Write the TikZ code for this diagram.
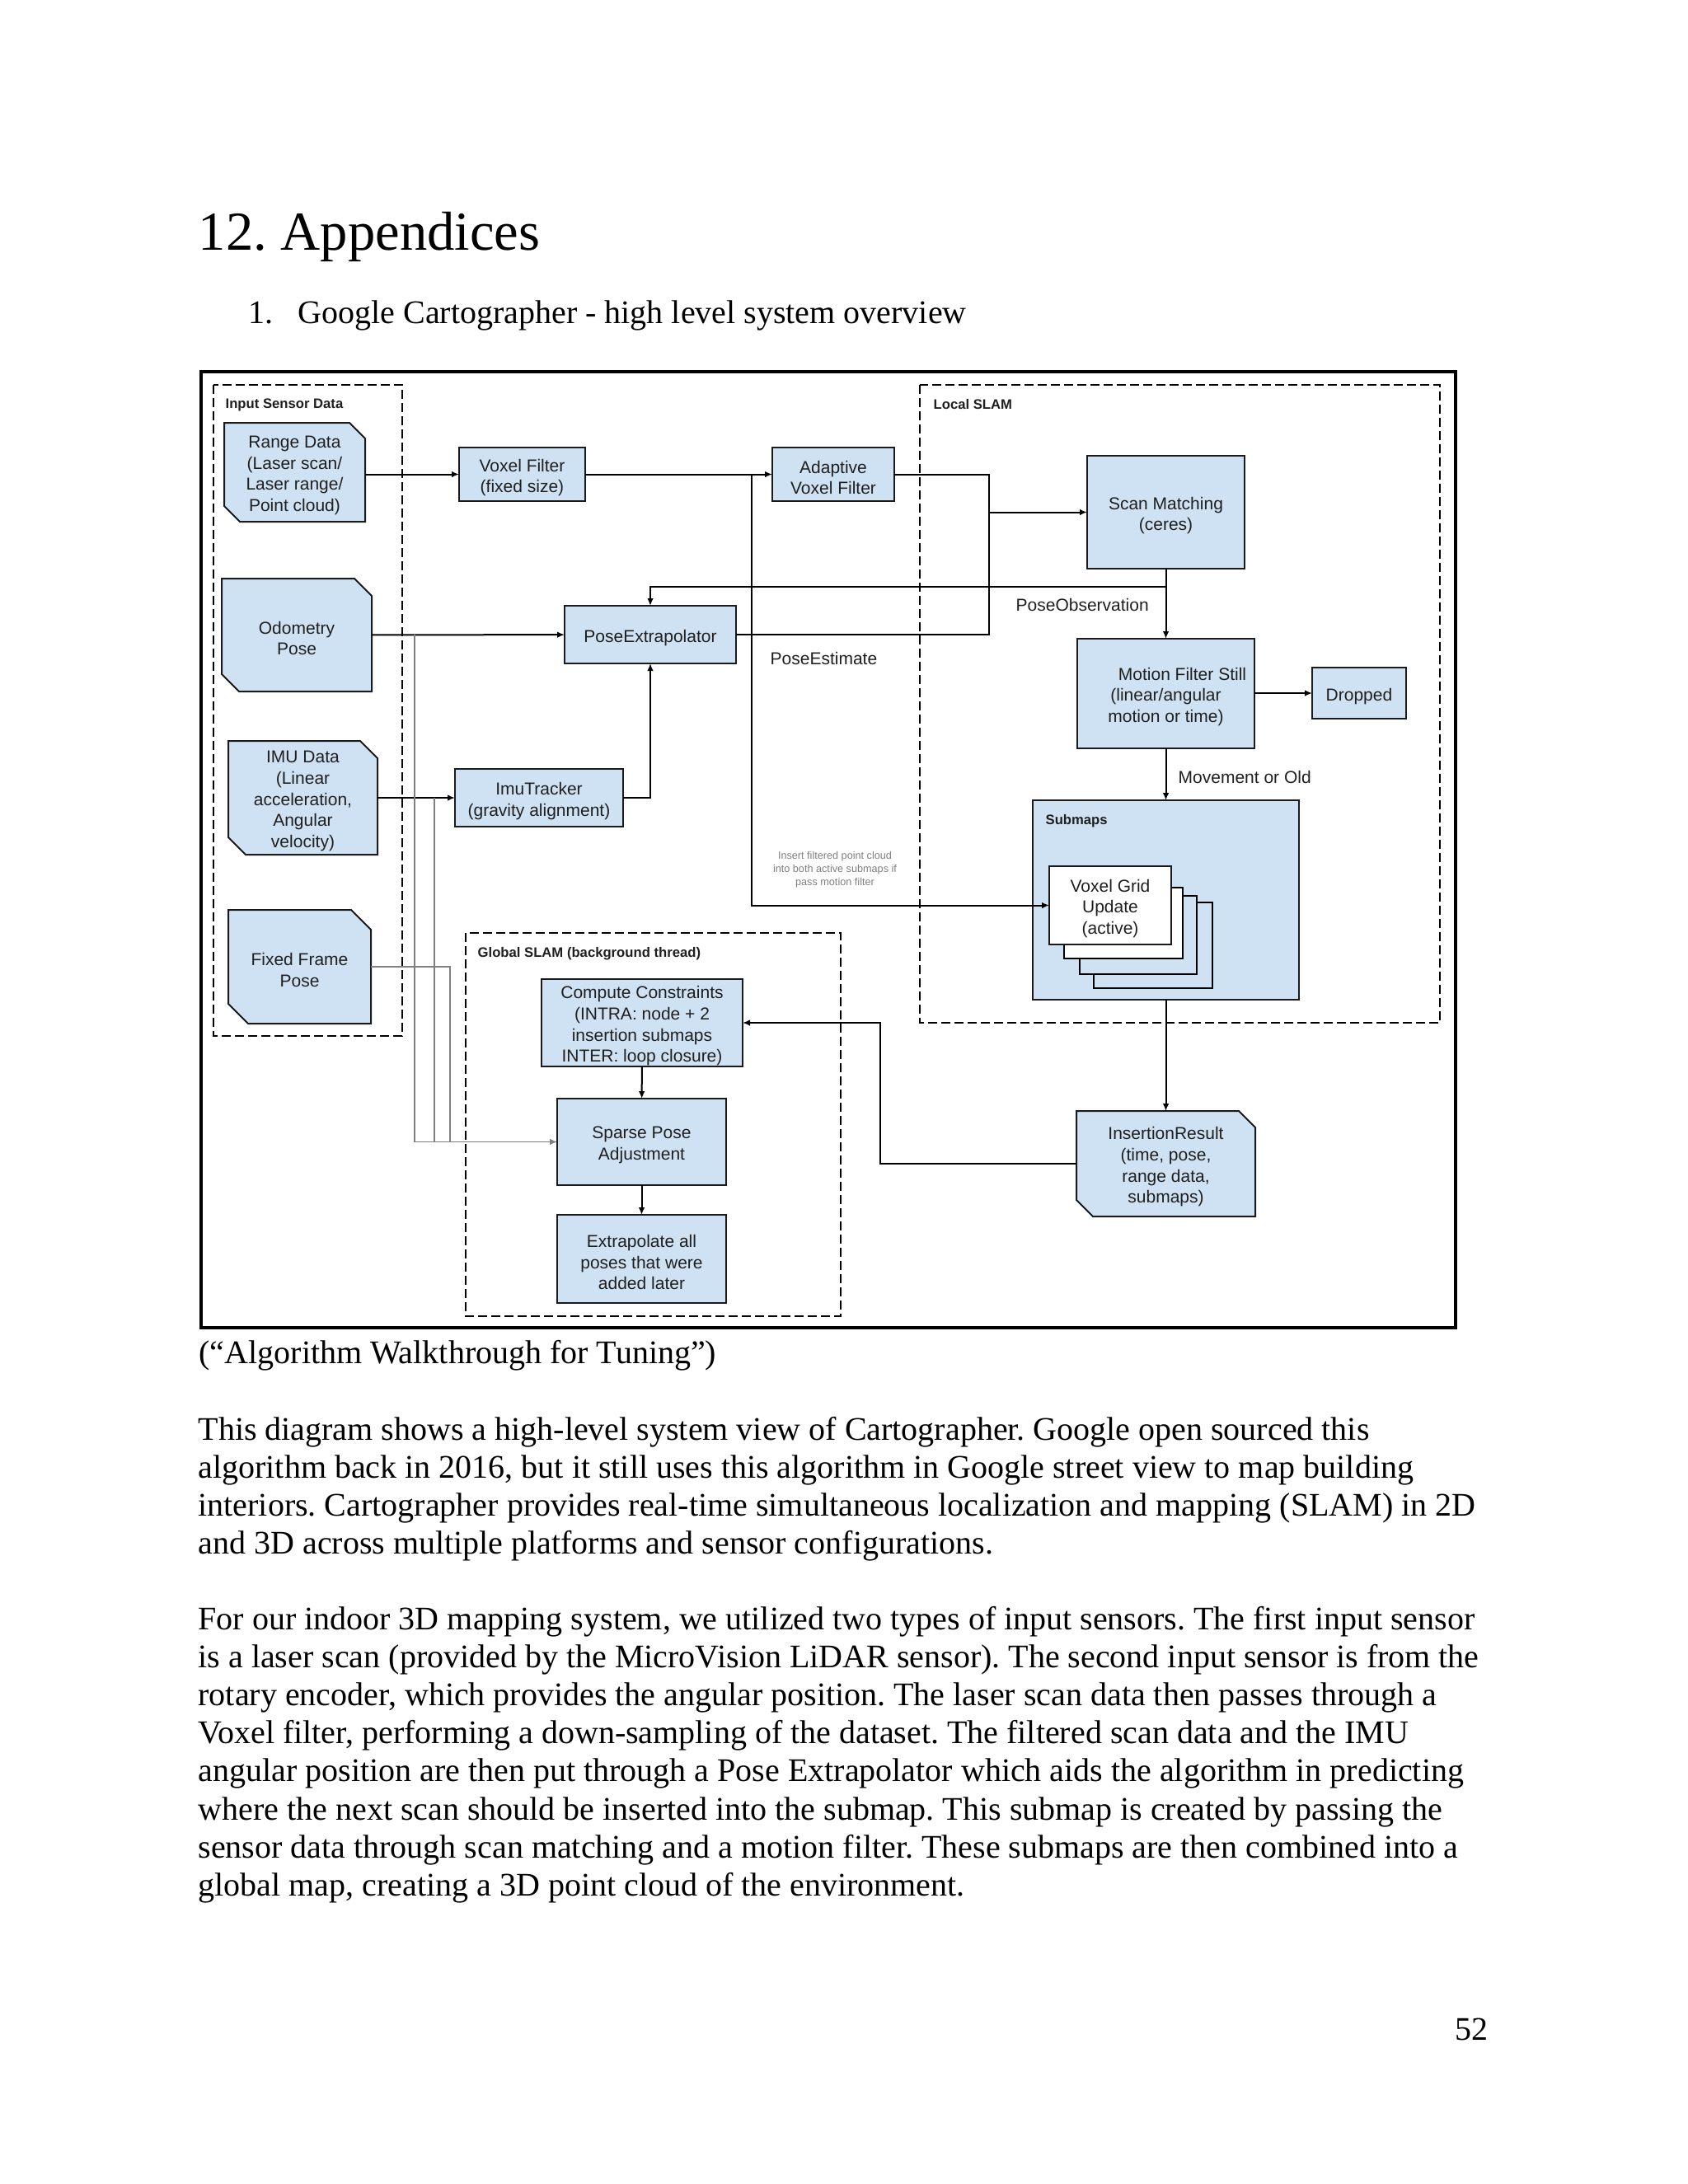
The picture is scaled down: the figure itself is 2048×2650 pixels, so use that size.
\documentclass[tikz,border=0pt]{standalone}
\usepackage{fontspec}
\setmainfont{Liberation Serif}
\newfontfamily\arialf{Liberation Sans}
\usetikzlibrary{arrows.meta}
\newdimen\px \px=0.010542cm
\definecolor{boxblue}{HTML}{CFE2F3}
\definecolor{edgec}{HTML}{1A1A1A}
\definecolor{txtc}{HTML}{1F1F1F}
\newcommand\diagfont{\arialf\fontsize{6.3}{7.7}\selectfont}
\tikzset{
  box/.style={draw=edgec, line width=0.6pt, fill=boxblue, inner sep=0pt, outer sep=0pt},
  boxtxt/.style={inner sep=0pt, align=center, font=\diagfont, text=txtc},
  cutbox/.style={draw=edgec, line width=0.6pt, fill=boxblue},
  ln/.style={line width=0.6pt, draw=black},
  arr/.style={ln, -{Latex[length=2.7pt,width=2.3pt]}},
  gln/.style={line width=0.45pt, draw=black!50},
  garr/.style={gln, -{Latex[length=2.7pt,width=2.3pt]}},
  dbox/.style={draw=black, line width=0.5pt, dash pattern=on 3.3pt off 1.5pt},
  grplbl/.style={font=\arialf\bfseries\fontsize{5}{6}\selectfont, anchor=west, inner sep=0pt, text=txtc},
  clbl/.style={font=\diagfont, anchor=west, inner sep=0pt, text=txtc},
  bodyt/.style={anchor=base west, inner sep=0pt, font=\fontsize{12}{14}\selectfont},
}
\newcommand\bx[7][]{%
  \node[box,minimum width={(#5-#3)*\px},minimum height={(#6-#4)*\px},#1] (#2) at ({(#3+#5)/2},{(#4+#6)/2}) {};
  \node[boxtxt] (#2-t) at ([yshift=-1.2pt]#2.center) {#7};}
\newcommand\cbx[7]{%
  \filldraw[cutbox] (#2,#3) -- ({#4-#6},#3) -- (#4,{#3+#6}) -- (#4,#5) -- ({#2+#6},#5) -- (#2,{#5-#6}) -- cycle;
  \node[box,draw=none,fill=none,minimum width={(#4-#2)*\px},minimum height={(#5-#3)*\px}] (#1) at ({(#2+#4)/2},{(#3+#5)/2}) {};
  \node[boxtxt] (#1-t) at ([yshift=-1.2pt]#1.center) {#7};}
\begin{document}
\frenchspacing
\begin{tikzpicture}[x=0.010542cm,y=-0.010542cm]
\fill[white] (0,0) rectangle (2048,2650);
\useasboundingbox (0,0) rectangle (2048,2650);

% page text
\node[anchor=base west,inner sep=0pt,font=\fontsize{20}{24}\selectfont] (title) at (240,303) {12. Appendices};
\node[anchor=base west,inner sep=0pt,font=\fontsize{12}{14}\selectfont] (subnum) at (301,392) {1.};
\node[anchor=base west,inner sep=0pt,font=\fontsize{12}{14}\selectfont] (subt) at (361,392) {Google Cartographer - high level system overview};

% outer frame and groups
\draw[line width=1.3pt] (244,451) rectangle (1766,1611);
\draw[dbox] (259,467) rectangle (488,1257);
\draw[dbox] (1116,467) rectangle (1747,1241);
\draw[dbox] (565,1132) rectangle (1020,1597);
\node[grplbl] (lin) at (273,491) {Input Sensor Data};
\node[grplbl] (lloc) at (1132,491) {Local SLAM};
\node[grplbl] (lglob) at (579,1157) {Global SLAM (background thread)};

% input sensors
\cbx{range}{272}{513}{443}{633}{19}{Range Data\\(Laser scan/\\Laser range/\\Point cloud)}
\cbx{odo}{269}{702}{451}{839}{21}{Odometry\\Pose}
\cbx{imu}{277}{899}{458}{1037}{21}{IMU Data\\(Linear\\acceleration,\\Angular\\velocity)}
\cbx{ffp}{277}{1104}{450}{1242}{24}{Fixed Frame\\Pose}

% processing boxes
\bx{vf}{557}{543}{710}{608}{Voxel Filter\\(fixed size)}
\bx{avf}{937}{543}{1085}{608}{Adaptive\\Voxel Filter}
\bx{pe}{685}{735}{893}{805}{PoseExtrapolator}
\bx{imut}{552}{933}{756}{1003}{ImuTracker\\(gravity alignment)}
\bx{sm}{1319}{553}{1510}{690}{Scan Matching\\(ceres)}
\bx{mf}{1307}{775}{1522}{908}{\hspace*{12pt}Motion Filter Still\\(linear/angular\\motion or time)}
\bx{drop}{1592}{810}{1706}{872}{Dropped}
\bx{sub}{1253}{971}{1576}{1213}{}
\node[grplbl] (lsub) at (1268,996) {Submaps};
\draw[ln, fill=boxblue] (1327,1095) rectangle (1471,1199);
\draw[ln, fill=boxblue] (1310,1087) rectangle (1452,1182);
\draw[ln, fill=white] (1291,1077) rectangle (1435,1163);
\bx[fill=white]{vg}{1273}{1051}{1421}{1146}{Voxel Grid\\Update\\(active)}
\cbx{ir}{1306}{1348}{1523}{1476}{20}{InsertionResult\\(time, pose,\\range data,\\submaps)}
\bx{cc}{657}{1188}{901}{1294}{Compute Constraints\\(INTRA: node + 2\\insertion submaps\\INTER: loop closure)}
\bx{spa}{676}{1333}{881}{1438}{Sparse Pose\\Adjustment}
\bx{ex}{676}{1474}{881}{1581}{Extrapolate all\\poses that were\\added later}

% junction coordinates
\coordinate (jv) at (912,575.5);
\coordinate (ja) at (1200,575.5);
\coordinate (jb) at (1200,770);
\coordinate (jc) at (1200,621.5);
\coordinate (jso) at (1414.5,712);
\coordinate (jodo) at (503,770);
\coordinate (jimu) at (527,968);
\coordinate (jff) at (546,1173);
\coordinate (jir) at (1068,1241);

% connectors
\draw[arr] (range.east |- vf.west) -- (vf.west);
\draw[arr] (vf) -- (avf);
\draw[arr] (jv) |- (vg.west);
\draw[ln] (avf.east) -- (ja) -- (jb) -- (pe.east);
\draw[arr] (jc) -- (sm.west);
\draw[arr] (sm) -- (mf);
\draw[arr] (jso) -| (pe.north);
\draw[arr] (odo) -- (pe);
\draw[arr] (imu) -- (imut);
\draw[arr] (imut.east) -| (pe.south);
\draw[arr] (mf.east |- drop.west) -- (drop.west);
\draw[arr] (mf) -- (sub);
\draw[arr] (sub) -- (ir);
\draw[arr] (ir.west) -| (jir) -- (cc.east);
\draw[arr] (cc) -- (spa);
\draw[arr] (spa) -- (ex);
\draw[garr] (jodo) |- (spa.west);
\draw[gln] (jimu) -- (jimu |- spa.west);
\draw[gln] (ffp.east) -- (jff) -- (jff |- spa.west);

% connector labels
\node[clbl] (lpo) at (1232,734) {PoseObservation};
\node[clbl] (lpe) at (934,799) {PoseEstimate};
\node[clbl] (lmo) at (1429,943) {Movement or Old};
\node[align=center,inner sep=0pt,text=black!50,font=\arialf\fontsize{3.8}{4.8}\selectfont] (lins) at (1013,1055) {Insert filtered point cloud\\into both active submaps if\\pass motion filter};

% caption and body
\node[bodyt] (cap) at (241,1654) {(“Algorithm Walkthrough for Tuning”)};
\node[bodyt] (p1a) at (240,1747) {This diagram shows a high-level system view of Cartographer. Google open sourced this};
\node[bodyt] (p1b) at (240,1793) {algorithm back in 2016, but it still uses this algorithm in Google street view to map building};
\node[bodyt] (p1c) at (240,1839.5) {interiors. Cartographer provides real-time simultaneous localization and mapping (SLAM) in 2D};
\node[bodyt] (p1d) at (240,1885.5) {and 3D across multiple platforms and sensor configurations.};
\node[bodyt] (p2a) at (240,1977.5) {For our indoor 3D mapping system, we utilized two types of input sensors. The first input sensor};
\node[bodyt] (p2b) at (240,2023.6) {is a laser scan (provided by the MicroVision LiDAR sensor). The second input sensor is from the};
\node[bodyt] (p2c) at (240,2069.7) {rotary encoder, which provides the angular position. The laser scan data then passes through a};
\node[bodyt] (p2d) at (240,2115.8) {Voxel filter, performing a down-sampling of the dataset. The filtered scan data and the IMU};
\node[bodyt] (p2e) at (240,2161.9) {angular position are then put through a Pose Extrapolator which aids the algorithm in predicting};
\node[bodyt] (p2f) at (240,2208) {where the next scan should be inserted into the submap. This submap is created by passing the};
\node[bodyt] (p2g) at (240,2254.1) {sensor data through scan matching and a motion filter. These submaps are then combined into a};
\node[bodyt] (p2h) at (240,2300.2) {global map, creating a 3D point cloud of the environment.};
\node[anchor=base east,inner sep=0pt,font=\fontsize{12}{14}\selectfont] (pnum) at (1806,2475) {52};
\end{tikzpicture}
\end{document}
